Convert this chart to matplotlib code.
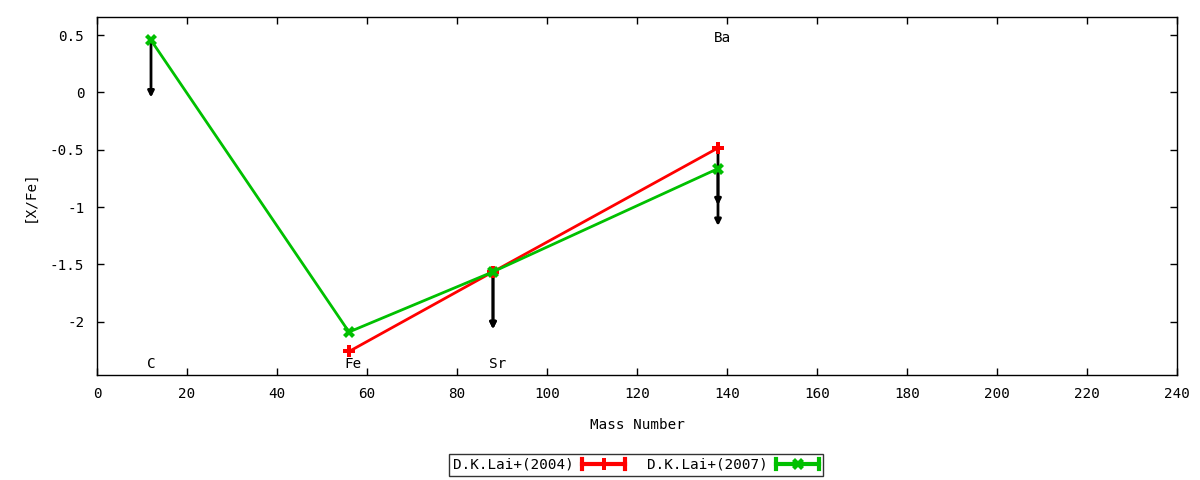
import matplotlib
matplotlib.use("Agg")
import matplotlib.pyplot as plt
from matplotlib.legend_handler import HandlerBase
from matplotlib.lines import Line2D

plt.rcParams['font.family'] = ['DejaVu Sans Mono']

# Data
mass_2004 = [56, 88, 138]
xfe_2004 = [-2.26, -1.565, -0.485]
ul_2004 = [False, True, True]

mass_2007 = [12, 56, 88, 138]
xfe_2007 = [0.455, -2.09, -1.565, -0.665]
ul_2007 = [True, False, True, True]

arrow_len = 0.5

elements = ['C', 'Fe', 'Sr', 'Ba']
elem_x = [12, 57, 89, 139]
elem_y = [-2.37, -2.37, -2.37, 0.47]

red = '#ff0000'
green = '#00c000'
FS = 10.3

fig = plt.figure(figsize=(12, 4.8), dpi=100)
ax = fig.add_axes([97/1200, 1 - 375/480, (1177-97)/1200, (375-17)/480])

l1, = ax.plot(mass_2004, xfe_2004, color=red, lw=2, marker='P', ms=8,
              mew=0, label='D.K.Lai+(2004)', zorder=3)
l2, = ax.plot(mass_2007, xfe_2007, color=green, lw=2, marker='X', ms=9,
              mew=0, label='D.K.Lai+(2007)', zorder=3)

for xs, ys, uls in [(mass_2004, xfe_2004, ul_2004), (mass_2007, xfe_2007, ul_2007)]:
    for x, y, u in zip(xs, ys, uls):
        if u:
            ax.annotate('', xy=(x, y - arrow_len), xytext=(x, y),
                        arrowprops=dict(arrowstyle='-|>', color='black', lw=2,
                                        mutation_scale=9, shrinkA=0, shrinkB=0),
                        zorder=2)

for name, x, y in zip(elements, elem_x, elem_y):
    ax.text(x, y, name, ha='center', va='center', fontsize=FS)

ax.set_xlim(0, 240)
ax.set_ylim(-2.465, 0.657)
ax.set_xticks(range(0, 241, 20))
ax.set_yticks([0.5, 0, -0.5, -1, -1.5, -2])
ax.set_yticklabels(['0.5', '0', '-0.5', '-1', '-1.5', '-2'])
ax.tick_params(direction='in', top=True, right=True, length=5, width=1,
               labelsize=FS, pad=9)
for s in ax.spines.values():
    s.set_linewidth(1)
ax.set_xlabel('Mass Number', fontsize=FS, labelpad=12)
ax.set_ylabel('[X/Fe]', fontsize=FS, labelpad=10)


class HandlerCap(HandlerBase):
    def create_artists(self, legend, orig_handle, xdescent, ydescent,
                       width, height, fontsize, trans):
        c = orig_handle.get_color()
        m = orig_handle.get_marker()
        y = height / 2 - ydescent
        line = Line2D([-xdescent, width - xdescent], [y, y], color=c, lw=3,
                      transform=trans)
        cap1 = Line2D([-xdescent, -xdescent], [y - 3.5, y + 3.5], color=c, lw=3,
                      transform=trans)
        cap2 = Line2D([width - xdescent, width - xdescent], [y - 3.5, y + 3.5],
                      color=c, lw=3, transform=trans)
        mk = Line2D([width / 2 - xdescent], [y], color=c, marker=m, ms=8,
                    mew=0, transform=trans)
        return [line, cap1, cap2, mk]


leg = fig.legend(handles=[l1, l2], loc='center', bbox_to_anchor=(636/1200, 1 - 465/480),
                 ncol=2, frameon=True, fancybox=False, edgecolor='black',
                 markerfirst=False, handler_map={Line2D: HandlerCap()},
                 fontsize=FS, handlelength=3.0, handletextpad=0.6,
                 columnspacing=1.5, borderpad=0.25, borderaxespad=0)
leg.get_frame().set_linewidth(1)

fig.savefig('out.png', dpi=100)
